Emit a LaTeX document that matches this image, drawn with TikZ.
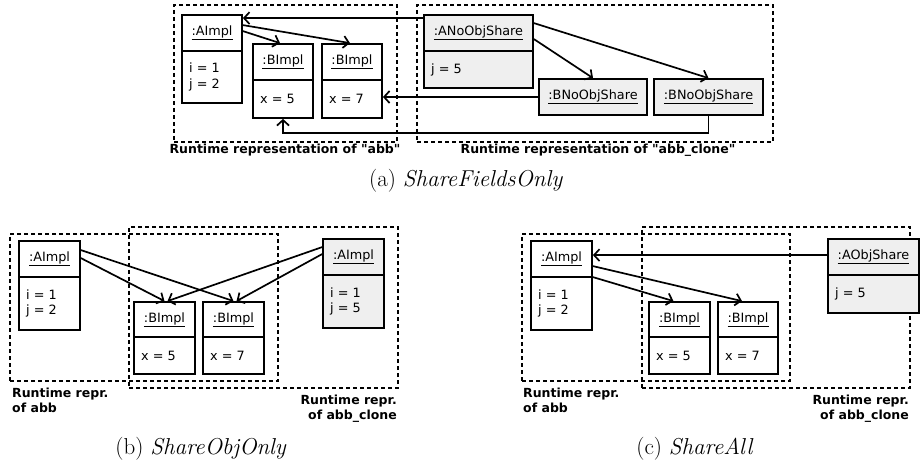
\documentclass[tikz,border=0pt]{standalone}
\usepackage{fontspec}
\newfontfamily\dv{DejaVu Sans}
\usetikzlibrary{arrows.meta,fit,calc}
\definecolor{objgray}{HTML}{EFEFEF}
\tikzset{
  objrect/.style={draw, line width=1.8pt, inner sep=0pt},
  objline/.style={line width=1.8pt},
  objtitle/.style={inner sep=0pt, font=\dv\fontsize{12.8}{15.5}\selectfont},
  objbody/.style={anchor=west, align=left, inner sep=0pt, font=\dv\fontsize{12.8}{15.5}\selectfont},
  region/.style={draw, line width=1.6pt, dash pattern=on 4pt off 3pt, inner sep=0pt},
  lab/.style={inner sep=0pt, font=\dv\bfseries\fontsize{12.5}{15}\selectfont},
  captext/.style={inner sep=0pt, font=\fontsize{23}{28}\selectfont},
  refarrow/.style={line width=1.7pt, -{Straight Barb[length=5.5pt,width=12pt,line width=1.7pt]}},
}
\newcommand\objbox[9]{%
  \node[objrect, fill=#9, fit={(#2,#3) (#4,#5)}] (#1) {};
  \draw[objline] (#2,#6) -- (#4,#6);
  \node[objtitle] at ({(#2+#4)/2},{(#3+#6)/2}) {\underline{#7}};
  \node[objbody] at ({#2+7},{(#6+#5)/2}) {#8};
}
\newcommand\objhead[7]{%
  \node[objrect, fill=#7, fit={(#2,#3) (#4,#5)}] (#1) {};
  \node[objtitle] at ({(#2+#4)/2},{(#3+#5)/2}) {\underline{#6}};
}
\begin{document}
\begin{tikzpicture}[x=1pt,y=-1pt]
\useasboundingbox (0,0) rectangle (923,462);

% ---------------- (a) ----------------
\node[region, fit={(174,5) (397,142)}] (abbA) {};
\node[region, fit={(417,5) (773,142)}] (cloneA) {};
\objbox{aA}{182}{15}{242}{103}{51}{:AImpl}{i = 1\\j = 2}{white}
\objbox{aB1}{253}{44}{313}{118}{80}{:BImpl}{x = 5}{white}
\objbox{aB2}{322}{44}{382}{118}{80}{:BImpl}{x = 7}{white}
\objbox{aANo}{424}{15}{533}{88}{51}{:ANoObjShare}{j = 5}{objgray}
\objhead{aBN1}{539}{79}{647}{115}{:BNoObjShare}{objgray}
\objhead{aBN2}{654}{79}{763}{115}{:BNoObjShare}{objgray}
\node[lab] (labA1) at (285,150) {Runtime representation of "abb"};
\node[lab] (labA2) at (598,150) {Runtime representation of "abb\_clone"};
\node[captext, anchor=base] (capA) at (466,187) {(a) \textit{ShareFieldsOnly}};

\draw[refarrow] ($(aANo.north west)+(0,4)$) -- ($(aA.north east)+(0,4)$);
\draw[refarrow] ($(aA.north east)+(0,11)$) -- ($(aB2.north)+(-2,0)$);
\draw[refarrow] ($(aA.north east)+(0,17)$) -- ($(aB1.north)+(-3,0)$);
\draw[refarrow] ($(aANo.north east)+(0,9)$) -- (aBN2.north);
\draw[refarrow] ($(aANo.north east)+(0,25)$) -- (aBN1.north);
\draw[refarrow] (aBN1.west) -- (aB2.east |- aBN1.west);
\draw[refarrow] (aBN2.south) -- ++(0,17) -| (aB1.south);

% ---------------- (b) ----------------
\node[region, fit={(10,234) (278,381)}] (abbB) {};
\node[region, fit={(129,227) (398,388)}] (cloneB) {};
\objbox{bA}{19}{241}{80}{330}{277}{:AImpl}{i = 1\\j = 2}{white}
\objbox{bB1}{134}{302}{195}{374}{337}{:BImpl}{x = 5}{white}
\objbox{bB2}{203}{302}{264}{374}{337}{:BImpl}{x = 7}{white}
\objbox{bA2}{323}{239}{384}{328}{275}{:AImpl}{i = 1\\j = 5}{objgray}
\node[lab, anchor=north west, align=left] (labB1) at (12,388) {Runtime repr.\\of abb};
\node[lab, anchor=north east, align=right] (labB2) at (397,395) {Runtime repr.\\of abb\_clone};
\node[captext, anchor=base] (capB) at (201,454) {(b) \textit{ShareObjOnly}};

\draw[refarrow] ($(bA.north east)+(0,10)$) -- (bB2.north);
\draw[refarrow] ($(bA.north east)+(0,18)$) -- (bB1.north);
\draw[refarrow] ($(bA2.north west)+(0,9)$) -- ($(bB1.north)+(3,0)$);
\draw[refarrow] ($(bA2.north west)+(0,16)$) -- ($(bB2.north)+(3,0)$);

% ---------------- (c) ----------------
\node[region, fit={(522,234) (790,381)}] (abbC) {};
\node[region, fit={(642,227) (910,388)}] (cloneC) {};
\objbox{cA}{531}{241}{592}{330}{277}{:AImpl}{i = 1\\j = 2}{white}
\objbox{cB1}{649}{302}{710}{374}{337}{:BImpl}{x = 5}{white}
\objbox{cB2}{718}{302}{778}{374}{337}{:BImpl}{x = 7}{white}
\objbox{cAO}{828}{239}{919}{313}{275}{:AObjShare}{j = 5}{objgray}
\node[lab, anchor=north west, align=left] (labC1) at (523,388) {Runtime repr.\\of abb};
\node[lab, anchor=north east, align=right] (labC2) at (909,395) {Runtime repr.\\of abb\_clone};
\node[captext, anchor=base] (capC) at (695,454) {(c) \textit{ShareAll}};

\draw[refarrow] ($(cAO.north west)+(0,17)$) -- ($(cA.north east)+(0,15)$);
\draw[refarrow] ($(cA.north east)+(0,26)$) -- ($(cB2.north)+(-6,0)$);
\draw[refarrow] ($(cA.north east)+(0,37)$) -- ($(cB1.north)+(-6,0)$);
\end{tikzpicture}
\end{document}
